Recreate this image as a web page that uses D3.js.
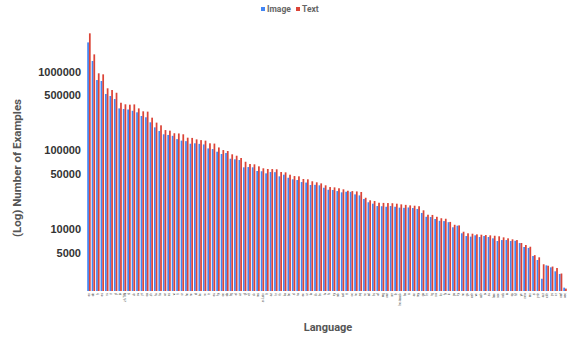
<!DOCTYPE html>
<html>
<head>
<meta charset="utf-8">
<script src="https://cdn.jsdelivr.net/npm/d3@7"></script>
<style>
  body { margin: 0; background: #fff; }
  svg { font-family: Roboto, "Noto Sans", sans-serif; }
</style>
</head>
<body>
<div id="chart"></div>
<script>
const languages = [
    'en', 'de', 'fr', 'es', 'ru', 'it', 'pl', 'ja', 'zh-TW', 'nl',
    'uk', 'sv', 'pt', 'ca', 'zh', 'hu', 'fa', 'ar', 'cs', 'vi',
    'fi', 'sr', 'he', 'no', 'id', 'ko', 'ro', 'tr', 'eu', 'hy',
    'ce', 'da', 'bg', 'el', 'uz', 'gl', 'et', 'sk', 'ms', 'sr-Latn',
    'lt', 'az', 'hr', 'th', 'ka', 'be', 'sl', 'ta', 'eo', 'ur',
    'la', 'kk', 'bn', 'lv', 'hi', 'cy', 'mk', 'ast', 'tt', 'oc',
    'te', 'sq', 'nn', 'ml', 'bs', 'af', 'mg', 'war', 'mr', 'lb',
    'be-tarask', 'ba', 'is', 'an', 'my', 'ga', 'br', 'tg', 'sw', 'kn',
    'fy', 'io', 'pa', 'ky', 'ne', 'gu', 'ceb', 'vo', 'azb', 'jv',
    'su', 'lmo', 'sco', 'nds', 'ia', 'qu', 'hif', 'yo', 'new', 'mn',
    'si', 'pnb', 'arz', 'ckb', 'ps', 'or', 'xmf', 'vec'
];

const imageCounts = [
    2340000, 1360000, 780000, 758000, 519000, 489000, 448000, 341000, 335000, 330000,
    318000, 304000, 273000, 263000, 227000, 196000, 176000, 160000, 157000, 153000,
    139000, 133000, 131000, 121500, 123000, 121000, 119000, 106000, 104000, 96200,
    90000, 92600, 78400, 77100, 75500, 61000, 61500, 61000, 54800, 54400,
    51200, 53200, 53000, 46900, 49200, 45000, 43000, 42100, 39700, 39100,
    36400, 36600, 36100, 33600, 31700, 31500, 30500, 29400, 29900, 29800,
    27700, 26900, 24200, 22000, 21100, 19700, 19600, 19300, 19700, 19300,
    18800, 18700, 18900, 18600, 18100, 16100, 14400, 14300, 13500, 12800,
    12700, 12300, 10600, 11100, 8890, 8210, 8070, 8380, 7980, 8210,
    7980, 7680, 7100, 7300, 7300, 7100, 7150, 6690, 5960, 5800,
    4580, 4080, 2360, 3490, 3290, 2930, 2710, 1820
];

const textCounts = [
    3050000, 1650000, 949000, 921000, 613000, 583000, 538000, 402000, 384000, 380000,
    383000, 341000, 313000, 310000, 260000, 225000, 208000, 181000, 178000, 165000,
    164000, 160000, 145000, 144000, 138000, 135000, 133000, 123000, 122000, 109000,
    101000, 98200, 89200, 85600, 80100, 71800, 67200, 66600, 62800, 59300,
    58100, 58000, 57600, 53200, 52700, 49200, 47300, 46900, 43400, 43000,
    40600, 39400, 38200, 36100, 34300, 34000, 33100, 32100, 30800, 30500,
    30200, 29700, 25100, 23300, 22800, 21700, 21600, 21500, 21400, 21100,
    20700, 20400, 20100, 19900, 19600, 17400, 15300, 15200, 14400, 13800,
    13600, 12400, 11400, 11200, 9310, 8890, 8790, 8620, 8530, 8450,
    8380, 8280, 8150, 7900, 7680, 7460, 7300, 6700, 6320, 6010,
    4700, 4410, 3600, 3450, 3370, 3230, 2750, 1770
];

const seriesNames = ['Image', 'Text'];
const seriesColors = ['#4285f4', '#db4437'];
const yTickValues = [5000, 10000, 50000, 100000, 500000, 1000000];

const tableData = languages.map((lang, i) => ({
    lang: lang,
    values: [imageCounts[i], textCounts[i]]
}));

const W = 567, H = 338;
const plot = { left: 87, right: 567, top: 20, bottom: 291 };

const svg = d3.select("#chart").append("svg")
    .attr("width", W)
    .attr("height", H);

const x0 = d3.scaleBand()
    .domain(languages)
    .range([plot.left, plot.right])
    .paddingInner(0.22)
    .paddingOuter(0.05);

const x1 = d3.scaleBand()
    .domain([0, 1])
    .range([0, x0.bandwidth()]);

const y = d3.scaleLog()
    .domain([1650, 4500000])
    .range([plot.bottom, plot.top]);

// bars
const groups = svg.append("g")
    .selectAll("g")
    .data(tableData)
    .enter().append("g")
    .attr("transform", d => "translate(" + x0(d.lang) + ",0)");

groups.selectAll("rect")
    .data(d => d.values.map((v, k) => ({ k: k, v: v })))
    .enter().append("rect")
    .attr("x", d => x1(d.k))
    .attr("width", x1.bandwidth())
    .attr("y", d => y(d.v))
    .attr("height", d => y(1650) - y(d.v))
    .attr("fill", d => seriesColors[d.k]);

// y axis
const yAxis = svg.append("g")
    .attr("transform", "translate(" + plot.left + ",0)")
    .call(d3.axisLeft(y)
        .tickValues(yTickValues)
        .tickFormat(d3.format("d"))
        .tickSize(0)
        .tickPadding(6));
yAxis.select(".domain").remove();
yAxis.selectAll("text")
    .style("font-size", "11px")
    .style("font-weight", "bold")
    .attr("fill", "#333");

// x axis (tiny rotated language codes)
const xAxis = svg.append("g")
    .attr("transform", "translate(0," + plot.bottom + ")")
    .call(d3.axisBottom(x0).tickSize(0).tickPadding(0));
xAxis.select(".domain").remove();
xAxis.selectAll("text")
    .attr("transform", "translate(0,2) rotate(-90)")
    .attr("x", 0)
    .attr("y", 0)
    .attr("dy", "0.35em")
    .style("text-anchor", "end")
    .style("font-size", "3px")
    .attr("fill", "#444");

// axis titles
svg.append("text")
    .attr("transform", "translate(21,168) rotate(-90)")
    .attr("text-anchor", "middle")
    .style("font-size", "11.5px")
    .style("font-weight", "bold")
    .attr("fill", "#555")
    .text("(Log) Number of Examples");

svg.append("text")
    .attr("x", 328)
    .attr("y", 331)
    .attr("text-anchor", "middle")
    .style("font-size", "11px")
    .style("font-weight", "bold")
    .attr("fill", "#555")
    .text("Language");

// legend
const legend = svg.append("g")
    .attr("transform", "translate(261,9)");

const legendItems = legend.selectAll("g")
    .data(seriesNames)
    .enter().append("g")
    .attr("transform", (d, i) => "translate(" + (i * 35) + ",0)");

legendItems.append("rect")
    .attr("x", 0)
    .attr("y", -2)
    .attr("width", 4)
    .attr("height", 4)
    .attr("fill", (d, i) => seriesColors[i]);

legendItems.append("text")
    .attr("x", 6)
    .attr("y", 0)
    .attr("dy", "0.35em")
    .style("font-size", "8.5px")
    .style("font-weight", "bold")
    .attr("fill", "#666")
    .text(d => d);
</script>
</body>
</html>
